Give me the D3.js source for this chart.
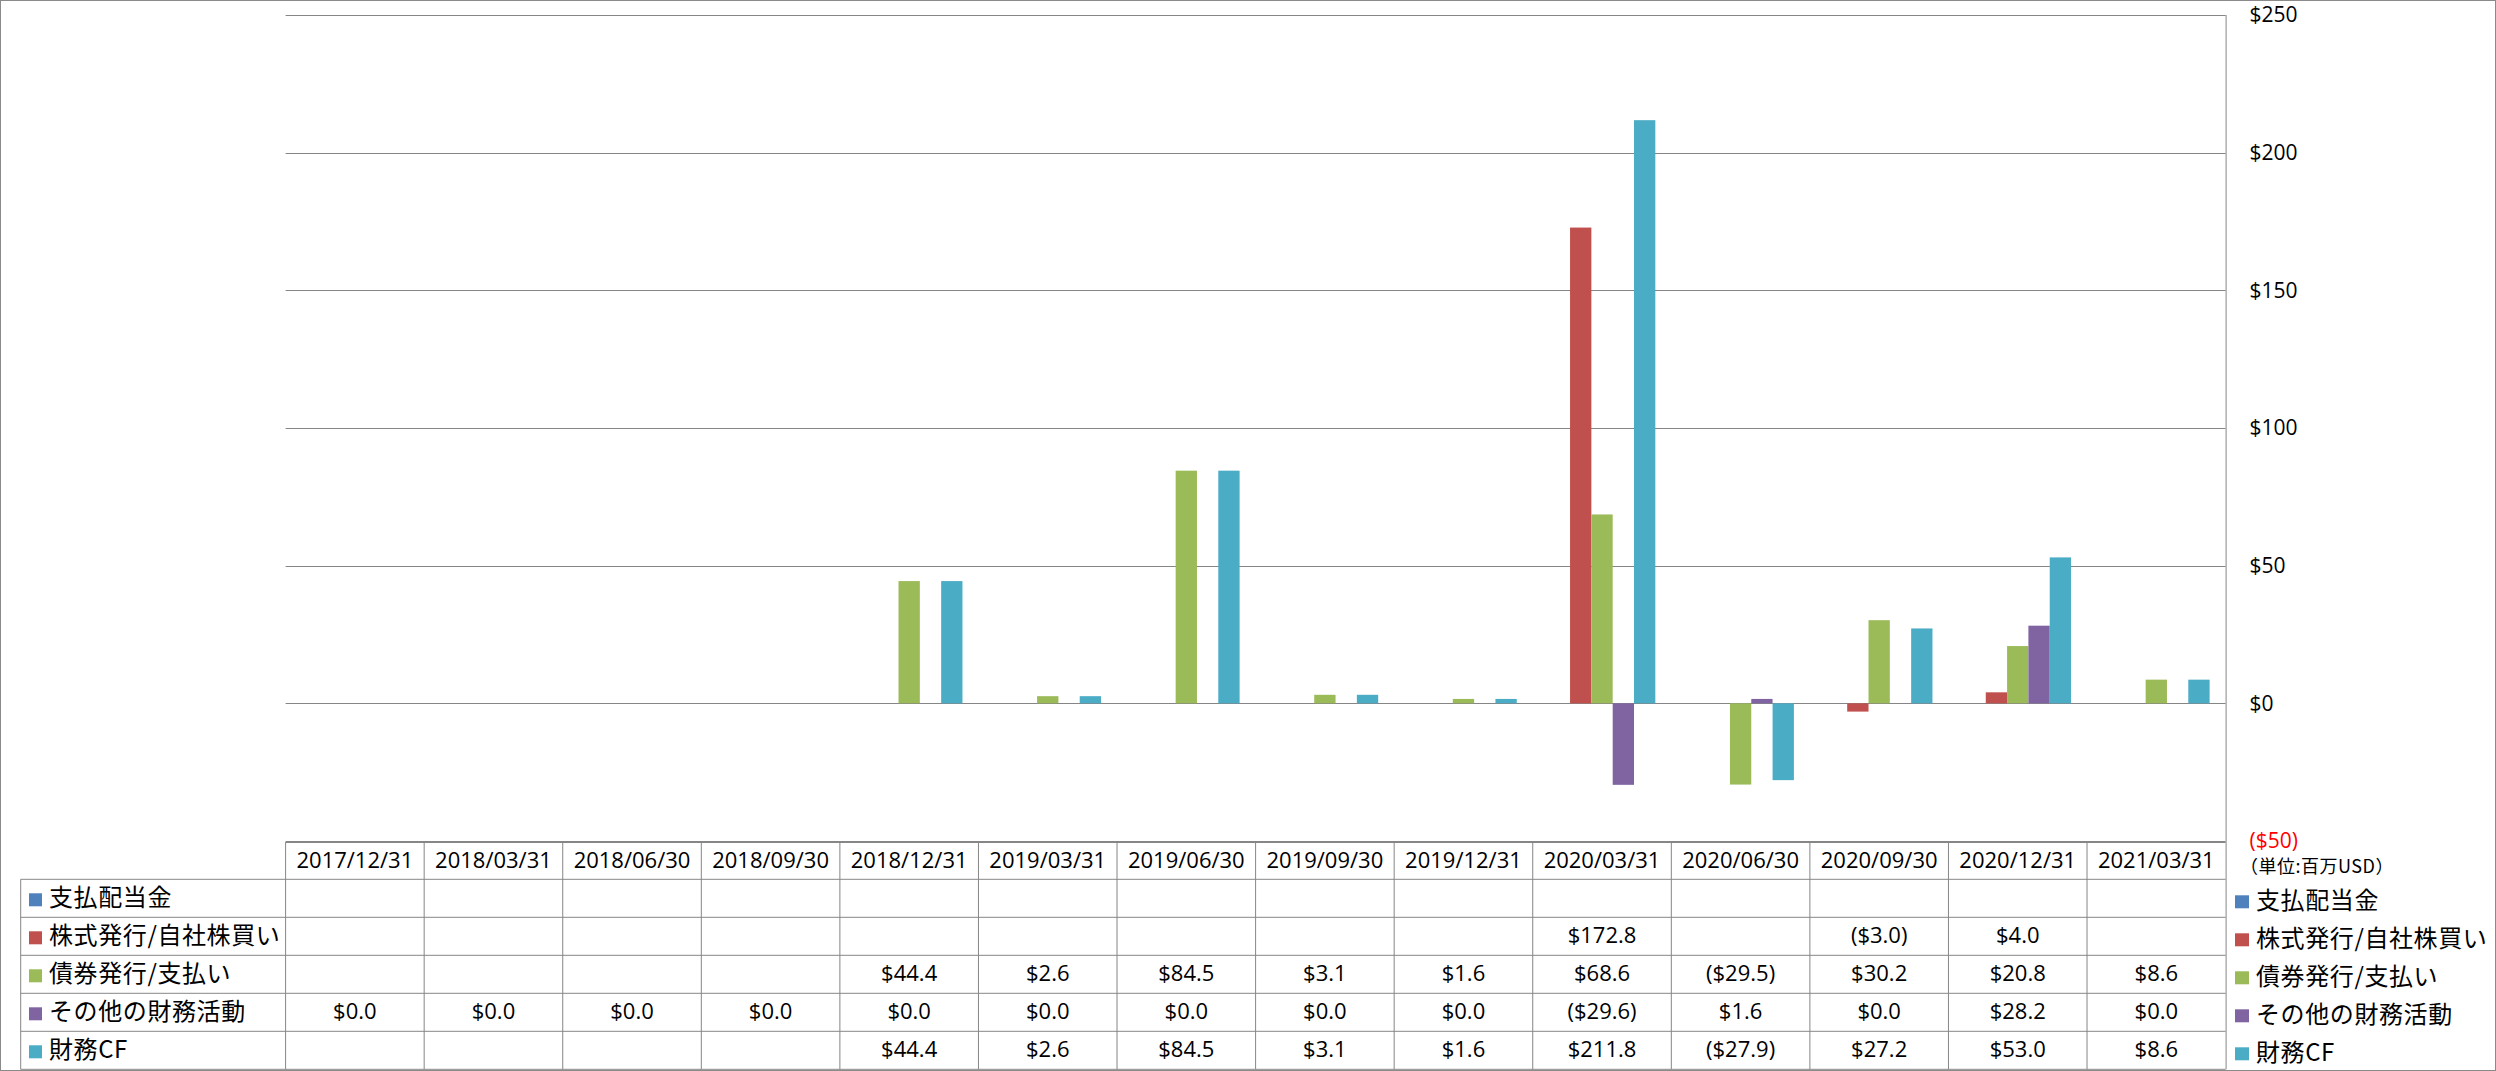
<!DOCTYPE html>
<html>
<head>
<meta charset="utf-8">
<script src="https://cdn.jsdelivr.net/npm/d3@7"></script>
<style>
  html, body { margin: 0; padding: 0; background: #fff; }
  svg { display: block; }
</style>
</head>
<body>
<svg id="chart" width="2496" height="1071"></svg>
<script>
// ---------- DATA ----------
const categories = ["2017/12/31","2018/03/31","2018/06/30","2018/09/30","2018/12/31","2019/03/31","2019/06/30","2019/09/30","2019/12/31","2020/03/31","2020/06/30","2020/09/30","2020/12/31","2021/03/31"];
const seriesNames = ["支払配当金","株式発行/自社株買い","債券発行/支払い","その他の財務活動","財務CF"];
const dividends   = [null,null,null,null,null,null,null,null,null,null,null,null,null,null];
const stock       = [null,null,null,null,null,null,null,null,null,172.8,null,-3.0,4.0,null];
const debt        = [null,null,null,null,44.4,2.6,84.5,3.1,1.6,68.6,-29.5,30.2,20.8,8.6];
const otherFin    = [0.0,0.0,0.0,0.0,0.0,0.0,0.0,0.0,0.0,-29.6,1.6,0.0,28.2,0.0];
const financingCF = [null,null,null,null,44.4,2.6,84.5,3.1,1.6,211.8,-27.9,27.2,53.0,8.6];
const yTicks = [-50,0,50,100,150,200,250];
const unitLabel = "（単位:百万USD）";
const seriesColors = ["#4F81BD","#C0504D","#9BBB59","#8064A2","#4BACC6"];

const seriesValues = [dividends, stock, debt, otherFin, financingCF];

// ---------- LAYOUT ----------
const svg = d3.select("#chart");
const W = 2496, H = 1071;
const plotLeft = 285.6, plotRight = 2225.6;
const plotTop = 15, plotBottom = 841;
const tableTop = 842, headerBottom = 879.3, rowH = 38;
const legendColLeft = 20.7;
const gridColor = "#868686";
const numFont = "'Open Sans', 'Liberation Sans', sans-serif";
const jpFont = "'Noto Sans CJK JP', 'Noto Sans', sans-serif";

const fmt = v => v == null ? "" : (v < 0 ? "($" + Math.abs(v).toFixed(1) + ")" : "$" + v.toFixed(1));
const fmtAxis = v => v < 0 ? "($" + Math.abs(v) + ")" : "$" + v;

const x = d3.scaleBand().domain(categories).range([plotLeft, plotRight]).padding(0);
const xSub = d3.scaleBand().domain(d3.range(seriesNames.length)).range([0, x.bandwidth()]).paddingInner(0).paddingOuter(0.75);
const y = d3.scaleLinear().domain([-50, 250]).range([plotBottom, plotTop]);

// outer border
svg.append("rect").attr("x",0.5).attr("y",0.5).attr("width",W-1).attr("height",H-1)
  .attr("fill","#fff").attr("stroke","#8a8a8a").attr("stroke-width",1);

// gridlines
svg.append("g").selectAll("line").data(yTicks).join("line")
  .attr("x1", plotLeft).attr("x2", plotRight)
  .attr("y1", d => Math.round(y(d)) + 0.5).attr("y2", d => Math.round(y(d)) + 0.5)
  .attr("stroke", gridColor).attr("stroke-width", 1);

// bars
const barData = [];
seriesValues.forEach((arr, si) => arr.forEach((v, ci) => {
  if (v != null) barData.push({si, ci, v});
}));
svg.append("g").selectAll("rect").data(barData).join("rect")
  .attr("x", d => x(categories[d.ci]) + xSub(d.si))
  .attr("width", xSub.bandwidth())
  .attr("y", d => Math.min(y(d.v), y(0)))
  .attr("height", d => Math.abs(y(d.v) - y(0)))
  .attr("fill", d => seriesColors[d.si]);

// right axis
const axis = d3.axisRight(y).tickValues(yTicks).tickSize(0).tickPadding(24).tickFormat(fmtAxis);
const ag = svg.append("g").attr("transform", `translate(${plotRight},0)`).call(axis);
ag.select(".domain").attr("stroke", gridColor).attr("stroke-width", 1)
  .attr("d", `M0.5,${plotTop}V${headerBottom + rowH*5}`);
ag.selectAll("text")
  .attr("font-family", numFont).attr("font-size", 21)
  .attr("fill", d => d < 0 ? "#FF0000" : "#000");

// unit label
svg.append("text").attr("x", 2240).attr("y", 868).attr("dominant-baseline","middle")
  .attr("font-family", jpFont).attr("font-size", 18).attr("letter-spacing", 0.5)
  .attr("fill", "#000").text(unitLabel);

// ---------- DATA TABLE ----------
const tbl = svg.append("g").attr("stroke", gridColor).attr("stroke-width", 1);
const tableBottom = headerBottom + rowH * 5;
// header top
tbl.append("line").attr("x1", plotLeft).attr("x2", plotRight).attr("y1", tableTop + 0.5).attr("y2", tableTop + 0.5);
// row lines
d3.range(6).forEach(i => {
  const yy = headerBottom + rowH * i;
  tbl.append("line").attr("x1", legendColLeft).attr("x2", plotRight).attr("y1", yy).attr("y2", yy);
});
// vertical lines
tbl.append("line").attr("x1", legendColLeft).attr("x2", legendColLeft).attr("y1", headerBottom).attr("y2", tableBottom);
categories.forEach(c => {
  const xx = x(c);
  tbl.append("line").attr("x1", xx).attr("x2", xx).attr("y1", tableTop).attr("y2", tableBottom);
});

// header labels
svg.append("g").selectAll("text").data(categories).join("text")
  .attr("x", d => x(d) + x.bandwidth()/2)
  .attr("y", (tableTop + headerBottom)/2 + 1)
  .attr("text-anchor", "middle").attr("dominant-baseline", "middle")
  .attr("font-family", numFont).attr("font-size", 22).attr("fill", "#000")
  .text(d => d);

// cell values
const cellData = [];
seriesValues.forEach((arr, si) => arr.forEach((v, ci) => cellData.push({si, ci, v})));
svg.append("g").selectAll("text").data(cellData).join("text")
  .attr("x", d => x(categories[d.ci]) + x.bandwidth()/2)
  .attr("y", d => headerBottom + rowH*d.si + rowH/2 + 1)
  .attr("text-anchor", "middle").attr("dominant-baseline", "middle")
  .attr("font-family", numFont).attr("font-size", 22).attr("fill", "#000")
  .text(d => fmt(d.v));

// row legend labels in table
const rowLeg = svg.append("g").selectAll("g").data(seriesNames).join("g")
  .attr("transform", (d, i) => `translate(0, ${headerBottom + rowH*i + rowH/2})`);
rowLeg.append("rect").attr("x", 29).attr("y", -5).attr("width", 13).attr("height", 13)
  .attr("fill", (d, i) => seriesColors[i]);
rowLeg.append("text").attr("x", 49).attr("y", 1).attr("dominant-baseline", "middle")
  .attr("font-family", jpFont).attr("font-size", 24).attr("letter-spacing", 0.6).attr("fill", "#000")
  .text(d => d);

// right-side legend
const rLeg = svg.append("g").selectAll("g").data(seriesNames).join("g")
  .attr("transform", (d, i) => `translate(0, ${headerBottom + rowH*i + rowH/2 + 3})`);
rLeg.append("rect").attr("x", 2235).attr("y", -6).attr("width", 14).attr("height", 13)
  .attr("fill", (d, i) => seriesColors[i]);
rLeg.append("text").attr("x", 2256).attr("y", 1).attr("dominant-baseline", "middle")
  .attr("font-family", jpFont).attr("font-size", 24).attr("letter-spacing", 0.6).attr("fill", "#000")
  .text(d => d);
</script>
</body>
</html>
